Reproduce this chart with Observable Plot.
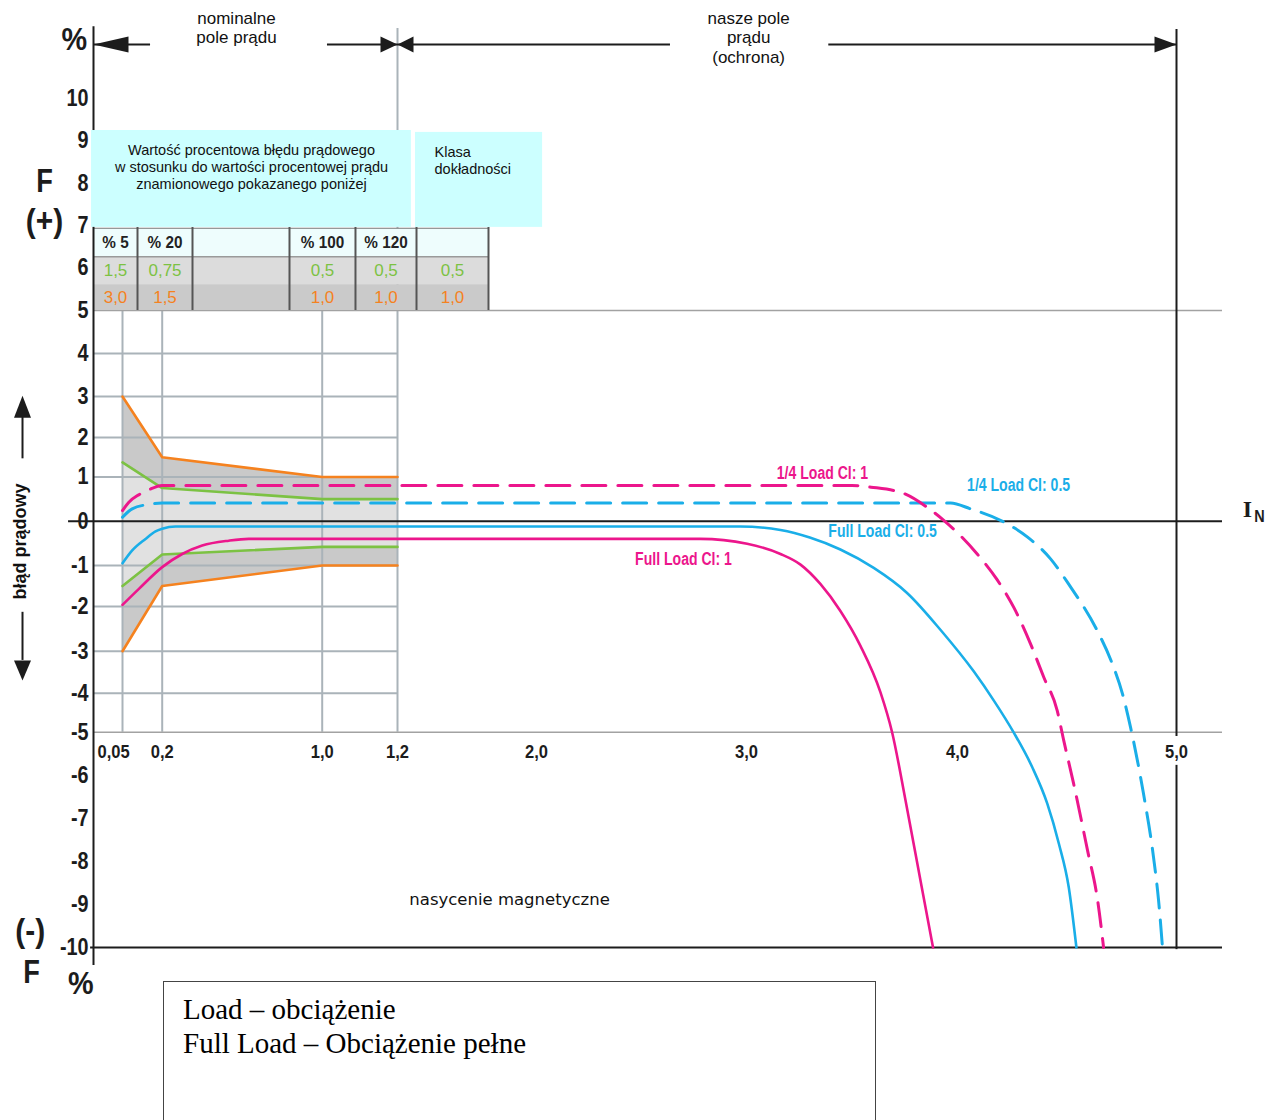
<!DOCTYPE html>
<html><head><meta charset="utf-8">
<script src="https://cdn.jsdelivr.net/npm/d3@7"></script>
<script src="https://cdn.jsdelivr.net/npm/@observablehq/plot@0.6"></script>
<style>
html,body{margin:0;padding:0;overflow:hidden;background:#fff;}
#wrap{position:relative;width:1273px;height:1120px;}
#legend{position:absolute;left:163px;top:981px;width:713px;height:170px;border:1.5px solid #444;box-sizing:border-box;
  font-family:"Liberation Serif","Times New Roman",serif;font-size:29px;line-height:34px;padding:10px 0 0 19px;color:#000;}
</style></head><body>
<div id="wrap"><div id="chart"></div><div id="legend">Load – obciążenie<br>Full Load – Obciążenie pełne</div></div>
<script>
// ---------- data ----------
const limitX = [0.05, 0.2, 1.0, 1.2];
const class1Upper = [3.0, 1.5, 1.0, 1.0];
const class1Lower = [-3.0, -1.5, -1.0, -1.0];
const class05Upper = [1.37, 0.75, 0.5, 0.5];
const class05Lower = [-1.5, -0.75, -0.58, -0.58];

const fullCl1X = [0.05, 0.112, 0.2, 0.3, 0.4, 0.533, 0.633, 2.78, 3.003, 3.161, 3.256, 3.35, 3.445, 3.54, 3.635, 3.690, 3.754, 3.827, 3.884];
const fullCl1Y = [-1.96, -1.57, -1.04, -0.74, -0.55, -0.44, -0.40, -0.40, -0.51, -0.74, -0.98, -1.45, -2.10, -2.88, -3.98, -5.0, -6.59, -8.51, -10];

const fullCl05X = [0.05, 0.0867, 0.137, 0.1747, 0.2, 0.2665, 2.97, 3.161, 3.30, 3.445, 3.603, 3.761, 3.919, 4.074, 4.166, 4.257, 4.341, 4.41, 4.463, 4.508, 4.543];
const fullCl05Y = [-0.95, -0.66, -0.40, -0.23, -0.17, -0.12, -0.12, -0.20, -0.37, -0.64, -1.06, -1.67, -2.52, -3.48, -4.19, -5.01, -5.81, -6.66, -7.59, -8.60, -10];

const quarterCl1X = [0.05, 0.074, 0.112, 0.149, 0.2, 3.5, 3.59, 3.744, 3.863, 3.935, 4.09, 4.18, 4.257, 4.333, 4.394, 4.455, 4.485, 4.53, 4.594, 4.64, 4.667];
const quarterCl1Y = [0.24, 0.43, 0.60, 0.71, 0.81, 0.81, 0.77, 0.63, 0.29, 0.02, -0.74, -1.34, -2.02, -2.83, -3.62, -4.44, -5.19, -6.19, -7.75, -8.91, -10];

const quarterCl05X = [0.05, 0.0867, 0.149, 0.2, 3.967, 4.059, 4.196, 4.242, 4.32, 4.425, 4.507, 4.638, 4.70, 4.753, 4.79, 4.849, 4.895, 4.918, 4.936];
const quarterCl05Y = [0.09, 0.28, 0.38, 0.41, 0.41, 0.28, 0.02, -0.10, -0.36, -0.85, -1.45, -2.54, -3.21, -4.01, -4.87, -6.42, -7.9, -8.9, -10];

const xTickValues = [0.05, 0.2, 1.0, 1.2, 2.0, 3.0, 4.0, 5.0];
const xTickLabels = ["0,05", "0,2", "1,0", "1,2", "2,0", "3,0", "4,0", "5,0"];
const yTickValues = [10, 9, 8, 7, 6, 5, 4, 3, 2, 1, 0, -1, -2, -3, -4, -5, -6, -7, -8, -9, -10];

const tableHeads = ["% 5", "% 20", "", "% 100", "% 120", ""];
const tableClass05 = ["1,5", "0,75", "", "0,5", "0,5", "0,5"];
const tableClass1 = ["3,0", "1,5", "", "1,0", "1,0", "1,0"];

const curveLabels = ["1/4 Load Cl: 1", "Full Load Cl: 1", "Full Load Cl: 0.5", "1/4 Load Cl: 0.5"];

// ---------- layout / scales ----------
const xDomain = [0, 0.05, 0.2, 1.0, 1.2, 2.0, 3.0, 4.0, 5.0];
const xRange = [93, 122, 161.7, 321.7, 397, 536, 746, 957, 1176];
const yDomain = [-10, -5, -4, -3, -2, -1, 0, 1, 2, 3, 4, 5, 10];
const yRange = [947, 731.7, 692.7, 650.7, 606, 565, 520.7, 476.5, 437, 396, 353, 310, 98];
const xPx = d3.scaleLinear().domain(xDomain).range(xRange);

const pink = "#ec168c", blue = "#1aaee8", orange = "#f5821f", green = "#7cc243";
const gridC = "#aab3b9", ink = "#1c1c1c";
const sans = "'Liberation Sans',Arial,Helvetica,sans-serif";

const limits = limitX.map((x, i) => ({x, c1hi: class1Upper[i], c1lo: class1Lower[i], c05hi: class05Upper[i], c05lo: class05Lower[i]}));
const zip = (xs, ys) => xs.map((x, i) => ({x, y: ys[i]}));

const colEdges = [0, 0.1067, 0.3515, 0.8365, 1.0884, 1.3094, 1.7237];
const colMid = colEdges.slice(0, -1).map((a, i) => xPx.invert((xPx(a) + xPx(colEdges[i + 1])) / 2));
const cells = colMid.map((x, i) => ({x, head: tableHeads[i], c05: tableClass05[i], c1: tableClass1[i]}));

const arrowY = 11.274;
const head = (pts) => ({draw(ctx) { ctx.moveTo(pts[0][0], pts[0][1]); for (const p of pts.slice(1)) ctx.lineTo(p[0], p[1]); ctx.closePath(); }});
const headL = (len) => head([[0, 0], [len, -8], [len, 8]]);
const headR = (len) => head([[0, 0], [-len, -8], [-len, 8]]);
const headU = head([[0, 0], [-8.5, 22], [8.5, 22]]);
const headD = head([[0, 0], [-8.5, -20], [8.5, -20]]);

const curveLine = (xs, ys, color, dashed) => Plot.line(zip(xs, ys), {x: "x", y: "y", stroke: color, strokeWidth: dashed ? 3 : 2.6,
  strokeDasharray: dashed ? "24,12" : null, curve: "monotone-x"});
// condensed label helper: the horizontal squeeze factor is tagged in the font-family list and applied after render
const condText = (data, k, opts) => Plot.text(data, {fontFamily: `'Liberation Sans',Arial,sans-serif,cond-${k}`, ...opts});

const chart = Plot.plot({
  width: 1273, height: 1010,
  marginTop: 0, marginRight: 0, marginBottom: 0, marginLeft: 0,
  x: {type: "linear", domain: xDomain, range: xRange, axis: null},
  y: {type: "linear", domain: yDomain, range: yRange, axis: null},
  style: {background: "white", fontFamily: sans},
  marks: [
    // tolerance bands
    Plot.areaY(limits, {x: "x", y1: "c1lo", y2: "c1hi", fill: "#c9c9c9"}),
    Plot.areaY(limits, {x: "x", y1: "c05lo", y2: "c05hi", fill: "#e1e1e1"}),
    // grid
    Plot.ruleY([4, 3, 2, 1, -1, -2, -3, -4], {x1: 0, x2: 1.2, stroke: gridC, strokeWidth: 2}),
    Plot.ruleX([0.05, 0.2, 1.0], {y1: -5, y2: 5, stroke: gridC, strokeWidth: 2}),
    Plot.ruleX([1.2], {y1: -5, y2: 11.65, stroke: gridC, strokeWidth: 2}),
    Plot.ruleY([5, -5], {x1: 0, x2: 5.21, stroke: "#a2a2a2", strokeWidth: 1.6}),
    // table
    Plot.rect([0], {x1: 0, x2: 1.7237, y1: 6.27, y2: 6.93, fill: "#eefdfd"}),
    Plot.rect([0], {x1: 0, x2: 1.7237, y1: 5.61, y2: 6.27, fill: "#dcdcdc"}),
    Plot.rect([0], {x1: 0, x2: 1.7237, y1: 5.0, y2: 5.61, fill: "#cacaca"}),
    Plot.ruleY([6.27], {x1: 0, x2: 1.7237, stroke: "#9a9a9a", strokeWidth: 1.5}),
    Plot.ruleY([6.94], {x1: 0, x2: 1.7237, stroke: "#777", strokeWidth: 1.2}),
    Plot.ruleX(colEdges.slice(1), {y1: 5.0, y2: 6.96, stroke: "#555", strokeWidth: 2}),
    condText(cells, 0.9, {x: "x", y: 6.6, text: "head", fontSize: 17, fontWeight: "bold", fill: "#222"}),
    Plot.text(cells, {x: "x", y: 5.94, text: "c05", fontSize: 17, fill: green}),
    Plot.text(cells, {x: "x", y: 5.31, text: "c1", fontSize: 17, fill: orange}),
    // axes
    Plot.ruleX([0], {y1: -10.42, y2: 11.69, stroke: ink, strokeWidth: 2}),
    Plot.ruleX([5], {y1: -5.1, y2: 11.63, stroke: ink, strokeWidth: 2}),
    Plot.ruleX([5], {y1: -10.05, y2: -5.77, stroke: ink, strokeWidth: 2}),
    Plot.ruleY([0], {x1: -0.043, x2: 5.21, stroke: ink, strokeWidth: 2}),
    Plot.ruleY([-10], {x1: -0.005, x2: 5.21, stroke: ink, strokeWidth: 2}),
    // cyan note boxes
    Plot.rect([0], {x1: -0.0034, x2: 1.28, y1: 6.96, y2: 9.245, fill: "#ccffff"}),
    Plot.rect([0], {x1: 1.3036, x2: 2.029, y1: 6.96, y2: 9.2, fill: "#ccffff"}),
    Plot.text(["Wartość procentowa błędu prądowego\nw stosunku do wartości procentowej prądu\nznamionowego pokazanego poniżej"],
      {x: 0.6465, y: 8.4, text: d => d, fontSize: 14.5, lineHeight: 1.17, fill: "#111"}),
    Plot.text(["Klasa\ndokładności"], {x: 1.413, y: 8.55, text: d => d, textAnchor: "start", fontSize: 14.5, lineHeight: 1.17, fill: "#111"}),
    // accuracy class limits
    Plot.line(limits, {x: "x", y: "c1hi", stroke: orange, strokeWidth: 2.6}),
    Plot.line(limits, {x: "x", y: "c1lo", stroke: orange, strokeWidth: 2.6}),
    Plot.line(limits, {x: "x", y: "c05hi", stroke: green, strokeWidth: 2.6}),
    Plot.line(limits, {x: "x", y: "c05lo", stroke: green, strokeWidth: 2.6}),
    // transformer curves
    curveLine(quarterCl05X, quarterCl05Y, blue, true),
    curveLine(quarterCl1X, quarterCl1Y, pink, true),
    curveLine(fullCl05X, fullCl05Y, blue, false),
    curveLine(fullCl1X, fullCl1Y, pink, false),
    condText([curveLabels[0]], 0.74, {x: 3.36, y: 1.11, text: d => d, fill: pink, fontSize: 19, fontWeight: "bold"}),
    condText([curveLabels[1]], 0.74, {x: 2.70, y: -0.84, text: d => d, fill: pink, fontSize: 19, fontWeight: "bold"}),
    condText([curveLabels[2]], 0.74, {x: 3.645, y: -0.21, text: d => d, fill: blue, fontSize: 19, fontWeight: "bold"}),
    condText([curveLabels[3]], 0.74, {x: 4.279, y: 0.81, text: d => d, fill: blue, fontSize: 19, fontWeight: "bold"}),
    Plot.text(["nasycenie magnetyczne"], {x: 1.845, y: -8.885, text: d => d, fontFamily: "'DejaVu Sans',Verdana,sans-serif", fontSize: 16.5, fill: "#111"}),
    // ticks
    condText(yTickValues, 0.86, {x: 0, y: d => d, text: d => String(d), textAnchor: "end", dx: -5, fontWeight: "bold", fontSize: 23, fill: ink}),
    condText(xTickValues.slice(1), 0.92, {x: d => d, y: -5, text: (d, i) => xTickLabels[i + 1], dy: 20, fontWeight: "bold", fontSize: 18, fill: ink}),
    condText(xTickValues.slice(0, 1), 0.92, {x: 0, y: -5, text: () => xTickLabels[0], dy: 20, dx: 4, textAnchor: "start", fontWeight: "bold", fontSize: 18, fill: ink}),
    Plot.text(["I"], {x: 5.324, y: 0.26, text: d => d, fontFamily: "'Liberation Serif','Times New Roman',serif", fontWeight: "bold", fontSize: 24, fill: ink}),
    condText(["N"], 0.85, {x: 5.379, y: 0.1, text: d => d, fontWeight: "bold", fontSize: 17, fill: ink}),
    // side labels
    condText(["%"], 0.9, {x: -0.033, y: 11.39, text: d => d, fontWeight: "bold", fontSize: 32, fill: ink}),
    condText(["%"], 0.9, {x: -0.022, y: -10.84, text: d => d, fontWeight: "bold", fontSize: 32, fill: ink}),
    condText(["F"], 0.8, {x: -0.0845, y: 8.04, text: d => d, fontWeight: "bold", fontSize: 34, fill: ink}),
    condText(["(+)"], 0.88, {x: -0.0845, y: 7.1, text: d => d, fontWeight: "bold", fontSize: 34, fill: ink}),
    condText(["(-)"], 0.88, {x: -0.109, y: -9.63, text: d => d, fontWeight: "bold", fontSize: 34, fill: ink}),
    condText(["F"], 0.8, {x: -0.107, y: -10.56, text: d => d, fontWeight: "bold", fontSize: 34, fill: ink}),
    Plot.text(["błąd prądowy"], {x: -0.126, y: -0.46, text: d => d, rotate: -90, fontSize: 18, fontWeight: 600, fill: "#111"}),
    Plot.ruleX([-0.1224], {y1: 1.46, y2: 2.5, stroke: ink, strokeWidth: 2}),
    Plot.ruleX([-0.1224], {y1: -2.13, y2: -3.22, stroke: ink, strokeWidth: 2}),
    Plot.dot([0], {x: -0.1224, y: 3.02, symbol: headU, fill: ink, stroke: "none"}),
    Plot.dot([0], {x: -0.1224, y: -3.70, symbol: headD, fill: ink, stroke: "none"}),
    // current range arrows
    Plot.ruleY([[0, 0.156], [1.014, 1.2], [1.2, 2.638], [3.39, 5.0]], {y: arrowY, x1: d => d[0], x2: d => d[1], stroke: ink, strokeWidth: 2}),
    Plot.dot([0], {x: 0, y: arrowY, symbol: headL(35), fill: ink, stroke: "none"}),
    Plot.dot([0], {x: 1.2, y: arrowY, symbol: headR(17), fill: ink, stroke: "none"}),
    Plot.dot([0], {x: 1.2, y: arrowY, symbol: headL(16), fill: ink, stroke: "none"}),
    Plot.dot([0], {x: 5.0, y: arrowY, symbol: headR(22), fill: ink, stroke: "none"}),
    Plot.text(["nominalne\npole prądu"], {x: 0.5715, y: 11.686, text: d => d, fontSize: 17, lineHeight: 1.12, fill: "#111"}),
    Plot.text(["nasze pole\nprądu\n(ochrona)"], {x: 3.01, y: 11.45, text: d => d, fontSize: 17, lineHeight: 1.15, fill: "#111"})
  ]
});

// squeeze condensed labels horizontally around their anchor points (y em-offsets stay untouched)
chart.querySelectorAll('[font-family*="cond-"]').forEach(el => {
  const k = +el.getAttribute("font-family").match(/cond-([\d.]+)/)[1];
  const texts = el.tagName.toLowerCase() === "text" ? [el] : Array.from(el.querySelectorAll("text"));
  texts.forEach(t => {
    const tr = t.getAttribute("transform") || "";
    t.setAttribute("transform", (tr + ` scale(${k},1)`).trim());
  });
});
document.getElementById("chart").appendChild(chart);
</script></body></html>
